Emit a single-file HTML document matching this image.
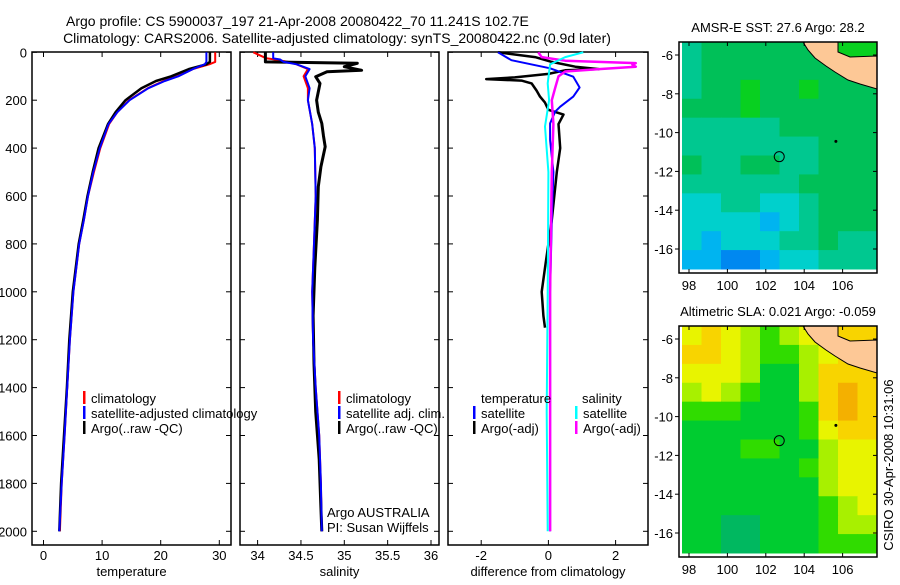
<!DOCTYPE html>
<html><head><meta charset="utf-8">
<style>
html,body{margin:0;padding:0;background:#fff;}
svg text{font-family:"Liberation Sans",sans-serif;fill:#000;}
</style></head>
<body>
<svg id="fig" width="900" height="580" viewBox="0 0 900 580" xmlns="http://www.w3.org/2000/svg">
<text x="66" y="26" font-size="14" text-anchor="start">Argo profile: CS 5900037_197 21-Apr-2008 20080422_70 11.241S 102.7E</text>
<text x="337" y="43" font-size="14" text-anchor="middle">Climatology: CARS2006. Satellite-adjusted climatology: synTS_20080422.nc (0.9d later)</text>
<g id="g"></g>
<text transform="translate(893,465) rotate(-90)" font-size="13" text-anchor="middle">CSIRO 30-Apr-2008 10:31:06</text>
</svg>
<script>
// ---- temperature panel data ----
const tDepth=[0,40,50,70,100,120,150,200,250,300,400,500,600,700,800,1000,1200,1400,1600,1800,2000];
const tClim=[29.3,29.3,28.3,25.5,22.8,20.5,17.8,14.6,12.6,11.2,9.7,8.6,7.6,6.9,6.1,5.1,4.5,4.05,3.6,3.1,2.8];
const tSat=[27.8,27.8,27.5,25.5,23.0,20.7,17.9,14.7,12.6,11.1,9.6,8.5,7.6,6.9,6.1,5.1,4.5,4.05,3.6,3.1,2.7];
const tArgo=[28.4,28.4,27.8,24.8,21.8,19.2,16.7,14.0,12.3,11.0,9.4,8.4,7.5,6.8,6.0,5.0,4.4,4.0,3.5,3.0,2.7];
// ---- salinity panel data ----
const sDepth=[0,25,30,40,50,70,100,150,200,300,400,600,800,1000,1200,1400,1600,1800,2000];
const sClim=[33.95,34.1,34.2,34.35,34.45,34.58,34.53,34.58,34.58,34.63,34.66,34.67,34.65,34.63,34.64,34.67,34.71,34.73,34.74];
const sSat=[34.18,34.18,34.26,34.3,34.45,34.6,34.55,34.6,34.58,34.63,34.66,34.67,34.65,34.63,34.64,34.67,34.71,34.73,34.74];
const sArgoDepth=[0,40,46,60,75,81,102,130,200,250,297,350,394,478,561,700,900,1100,1300,1500,1700,1900,2000];
const sArgo=[34.09,34.09,35.15,35.0,35.2,34.8,34.67,34.72,34.68,34.7,34.74,34.76,34.78,34.73,34.7,34.69,34.66,34.64,34.65,34.67,34.71,34.73,34.74];
// ---- difference panel data ----
const dTSatDepth=[0,33,67,102,147,185,227,248,297,367,500,700,1000,1500,2000];
const dTSat=[-1.5,-1.1,0.05,0.74,0.93,0.74,0.35,0.2,0.05,0.05,0.15,0.1,0.05,0.05,0.05];
const dTArgoDepth=[0,20,40,60,70,75,90,105,112,118,130,160,185,210,240,260,300,400,500,700,900,1000,1100,1150];
const dTArgo=[-1.5,-0.4,0.1,0.8,1.5,0.5,0,-1.0,-1.85,-0.8,-0.5,-0.35,-0.25,-0.1,0.0,0.45,0.3,0.35,0.25,0.1,-0.1,-0.2,-0.15,-0.1];
const dSSatDepth=[0,20,50,130,200,310,500,1000,1500,2000];
const dSSat=[1.04,0.5,0.05,-0.02,0.02,-0.1,0,-0.02,-0.05,-0.02];
const dSArgoDepth=[0,20,35,45,52,60,70,80,100,150,200,300,500,1000,2000];
const dSArgo=[-0.3,-0.2,0.5,2.6,2.5,2.6,1.5,0.5,0.3,0.2,0.1,0.15,0.1,0.05,0.05];
// ---- axis ticks ----
const depthTicks=[0,200,400,600,800,1000,1200,1400,1600,1800,2000];
const tTicks=[0,10,20,30];
const sTicks=[34,34.5,35,35.5,36];
const dTicks=[-2,0,2];
const lonTicks=[98,100,102,104,106];
const latTicks=[-6,-8,-10,-12,-14,-16];
// ---- map grids (colour class per cell, rows north->south) ----
const sstGrid=[
[3,4,4,4,4,4,4,4,5,5],[3,4,4,4,4,4,4,4,4,4],[3,4,4,5,4,4,5,4,4,4],[4,4,4,5,4,4,4,4,4,4],
[3,3,3,3,3,4,4,4,4,4],[3,3,3,3,3,3,3,4,4,4],[4,3,3,4,4,3,3,4,4,4],[3,3,3,3,3,3,4,4,4,4],
[2,2,3,3,2,2,3,4,4,4],[2,2,2,2,1,2,3,4,4,4],[2,1,2,2,2,3,3,4,3,3],[1,1,0,0,1,2,2,3,3,3]];
const slaGrid=[
[4,5,4,3,2,3,4,4,5,5],[5,5,4,3,2,2,3,4,5,5],[4,4,4,3,1,1,3,5,5,5],[3,4,3,2,1,1,3,5,6,5],
[2,2,2,1,1,1,2,5,6,5],[1,1,1,1,1,1,2,4,5,5],[1,1,1,2,2,1,1,3,4,4],[1,1,1,1,1,1,2,3,4,4],
[1,1,1,1,1,1,1,3,4,4],[1,1,1,1,1,1,1,2,3,4],[1,1,0,0,1,1,1,2,3,3],[1,1,0,0,1,1,1,2,2,2]];
const sstColors=['#0088f0','#00b4f0','#00d0cc','#00c890','#00c058','#08d020'];
const slaColors=['#00b860','#00cc30','#30dc00','#a8f000','#e8f400','#f8d400','#f4b000'];
const floatLon=102.7, floatLat=-11.241;

const NS='http://www.w3.org/2000/svg';
const G=document.getElementById('g');
function el(tag,attrs,parent){const e=document.createElementNS(NS,tag);for(const k in attrs)e.setAttribute(k,attrs[k]);(parent||G).appendChild(e);return e;}
function yD(d){return 52.3+d*0.2395;}
const xT=v=>43.5+5.86*v, xS=v=>257.6+86.7*(v-34), xDf=v=>548.4+33.6*v;
const TOP=52,BOT=545;

function panel(x0,x1,name,xs,ticks,fmt,label,ylabels){
  const r=el('rect',{x:x0,y:TOP,width:x1-x0,height:BOT-TOP,fill:'none',stroke:'#000','stroke-width':1.5});
  
  
  depthTicks.forEach(d=>{const y=yD(d);
    el('line',{x1:x0,x2:x0+5,y1:y,y2:y,stroke:'#000'});el('line',{x1:x1-5,x2:x1,y1:y,y2:y,stroke:'#000'});
    if(ylabels){const t=el('text',{x:x0-5,y:y+5,'font-size':13,'text-anchor':'end'});t.textContent=d;
      
      }});
  ticks.forEach(v=>{const x=xs(v);
    el('line',{x1:x,x2:x,y1:BOT,y2:BOT-5,stroke:'#000'});el('line',{x1:x,x2:x,y1:TOP,y2:TOP+5,stroke:'#000'});
    const t=el('text',{x:x,y:560,'font-size':13,'text-anchor':'middle'});t.textContent=fmt(v);
    
    });
  const l=el('text',{x:(x0+x1)/2,y:576,'font-size':13,'text-anchor':'middle'});l.textContent=label;
  
  
}
function line(depths,vals,xs,color,w,name){
  const pts=depths.map((d,i)=>xs(vals[i]).toFixed(1)+','+yD(d).toFixed(1)).join(' ');
  const p=el('polyline',{points:pts,fill:'none',stroke:color,'stroke-width':w,'stroke-linejoin':'round'});
  
  
}
function legend(x,y,color,text,name){
  el('rect',{x:x,y:y-7,width:2.5,height:13,fill:color});
  const t=el('text',{x:x+8,y:y+5,'font-size':13});t.textContent=text;
  
  
}
// panel 1
panel(32,231,'temperature-panel',xT,tTicks,v=>v,'temperature',true);
line(tDepth,tClim,xT,'#f00',2,'temp-climatology-line');
line(tDepth,tArgo,xT,'#000',2.5,'temp-argo-line');
line(tDepth,tSat,xT,'#00f',2,'temp-satellite-line');
legend(83,398,'#f00','climatology','legend-climatology');
legend(83,413,'#00f','satellite-adjusted climatology','legend-satellite-adjusted');
legend(83,428,'#000','Argo(..raw -QC)','legend-argo');
// panel 2
panel(240,439,'salinity-panel',xS,sTicks,v=>v,'salinity',false);
line(sDepth,sClim,xS,'#f00',2,'sal-climatology-line');
line(sArgoDepth,sArgo,xS,'#000',3,'sal-argo-line');
line(sDepth,sSat,xS,'#00f',2,'sal-satellite-line');
legend(338,398,'#f00','climatology','legend-sal-climatology');
legend(338,413,'#00f','satellite adj. clim.','legend-sal-satellite');
legend(338,428,'#000','Argo(..raw -QC)','legend-sal-argo');
[['Argo AUSTRALIA',517,'institution-label'],['PI: Susan Wijffels',532,'pi-label']].forEach(a=>{
  const t=el('text',{x:327,y:a[1],'font-size':13});t.textContent=a[0];
  
  });
// panel 3
panel(448,648,'difference-panel',xDf,dTicks,v=>v,'difference from climatology',false);
line(dTArgoDepth,dTArgo,xDf,'#000',2.5,'diff-temp-argo-line');
line(dTSatDepth,dTSat,xDf,'#00f',2,'diff-temp-satellite-line');
line(dSArgoDepth,dSArgo,xDf,'#f0f',2.5,'diff-sal-argo-line');
line(dSSatDepth,dSSat,xDf,'#0ff',2,'diff-sal-satellite-line');
{const t=el('text',{x:481,y:403,'font-size':13});t.textContent='temperature';
 
 
 const s=el('text',{x:582,y:403,'font-size':13});s.textContent='salinity';
 
 }
legend(473,413,'#00f','satellite','legend-diff-temp-satellite');
legend(473,428,'#000','Argo(-adj)','legend-diff-temp-argo');
legend(575,413,'#0ff','satellite','legend-diff-sal-satellite');
legend(575,428,'#f0f','Argo(-adj)','legend-diff-sal-argo');

// maps
function map(y0,y1,grid,cols,name,title){
  const X0=679,X1=877, lat6y=y0+13;
  const lonX=l=>689+(l-98)*19.2, latY=l=>lat6y+(-6-l)*19.4;
  const gx0=682, gy0=y0, gx1=877, gy1=y1-4;
  const nr=grid.length,nc=grid[0].length,cw=(gx1-gx0)/nc,ch=(gy1-gy0)/nr;
  grid.forEach((row,i)=>row.forEach((v,j)=>{
    const c=el('rect',{x:gx0+j*cw,y:gy0+i*ch,width:cw+0.5,height:ch+0.5,fill:cols[v]});
    
    
  }));
  const land=el('polygon',{points:[[803,0],[838,0],[838,10],[850,15],[877,14],[877,47],[860,42],[848,38],[835,30],[826,24],[815,16],[808,8]].map(p=>p[0]+','+(y0+p[1])).join(' '),fill:'#fdc896',stroke:'#000','stroke-width':1});
  
  
  el('rect',{x:X0,y:y0,width:X1-X0,height:y1-y0,fill:'none',stroke:'#000','stroke-width':1.5});
  lonTicks.forEach(l=>{const x=lonX(l);el('line',{x1:x,x2:x,y1:y1,y2:y1-4,stroke:'#000'});el('line',{x1:x,x2:x,y1:y0,y2:y0+4,stroke:'#000'});
    const t=el('text',{x:x,y:y1+17,'font-size':13,'text-anchor':'middle'});t.textContent=l;
    
    });
  latTicks.forEach(l=>{const y=latY(l);el('line',{x1:X0,x2:X0-4,y1:y,y2:y,stroke:'#000'});el('line',{x1:X1,x2:X1-4,y1:y,y2:y,stroke:'#000'});
    const t=el('text',{x:X0-6,y:y+5,'font-size':13,'text-anchor':'end'});t.textContent=l;
    
    });
  const c=el('circle',{cx:lonX(floatLon),cy:latY(floatLat),r:5,fill:'none',stroke:'#000','stroke-width':1});
  
  
  el('circle',{cx:lonX(105.65),cy:latY(-10.45),r:1.5,fill:'#000'});
  const t=el('text',{x:778,y:y0-10,'font-size':13,'text-anchor':'middle'});t.textContent=title;
  
  
}
map(42,273,sstGrid,sstColors,'sst-map','AMSR-E SST: 27.6 Argo: 28.2');
map(326,557,slaGrid,slaColors,'sla-map','Altimetric SLA: 0.021 Argo: -0.059');
</script>
</body></html>
